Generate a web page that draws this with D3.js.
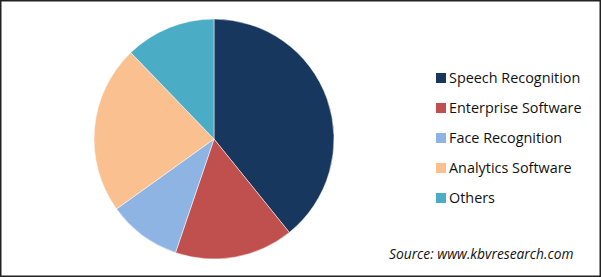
<!DOCTYPE html>
<html>
<head>
<meta charset="utf-8">
<script src="https://cdnjs.cloudflare.com/ajax/libs/d3/7.8.5/d3.min.js"></script>
<style>
  body { margin: 0; background: #fff; }
  svg text { font-family: "Open Sans", "Noto Sans", sans-serif; fill: #111; }
</style>
</head>
<body>
<div id="chart"></div>
<script>
// slice values (percent share)
var categories = ['Speech Recognition', 'Enterprise Software', 'Face Recognition', 'Analytics Software', 'Others'];
var shares = [39.2, 16.0, 9.9, 22.7, 12.2];
var colors = ['#17375E', '#C0504D', '#8EB4E3', '#FAC090', '#4BACC6'];
var sourceNote = 'Source: www.kbvresearch.com';

const width = 601;
const height = 277;
const cx = 214;
const cy = 139;
const radius = 120;

var svg = d3.select('#chart').append('svg')
  .attr('width', width)
  .attr('height', height);

svg.append('rect')
  .attr('x', 0.75).attr('y', 0.75)
  .attr('width', width - 1.5).attr('height', height - 1.5)
  .attr('fill', '#fff')
  .attr('stroke', '#222')
  .attr('stroke-width', 1.5);

var color = d3.scaleOrdinal().domain(categories).range(colors);

var pie = d3.pie().sort(null).value(function(d) { return d.value; });
var arc = d3.arc().innerRadius(0).outerRadius(radius);

var data = categories.map(function(c, i) { return { name: c, value: shares[i] }; });

svg.append('g')
  .attr('transform', 'translate(' + cx + ',' + cy + ')')
  .selectAll('path')
  .data(pie(data))
  .join('path')
  .attr('d', arc)
  .attr('fill', function(d) { return color(d.data.name); })
  .attr('stroke', '#fff')
  .attr('stroke-width', 0.5);

// legend
var legendY = d3.scalePoint().domain(categories).range([78, 198]);

var legend = svg.append('g').attr('class', 'legend');
var items = legend.selectAll('g')
  .data(categories)
  .join('g')
  .attr('transform', function(d) { return 'translate(436,' + legendY(d) + ')'; });

items.append('rect')
  .attr('x', 0).attr('y', -5)
  .attr('width', 10).attr('height', 10)
  .attr('fill', function(d) { return color(d); });

items.append('text')
  .attr('x', 13)
  .attr('dy', '0.35em')
  .style('font-size', '14.4px')
  .text(function(d) { return d; });

svg.append('text')
  .attr('x', 389)
  .attr('y', 254)
  .attr('dy', '0.35em')
  .style('font-size', '13.8px')
  .style('font-style', 'italic')
  .text(sourceNote);
</script>
</body>
</html>
